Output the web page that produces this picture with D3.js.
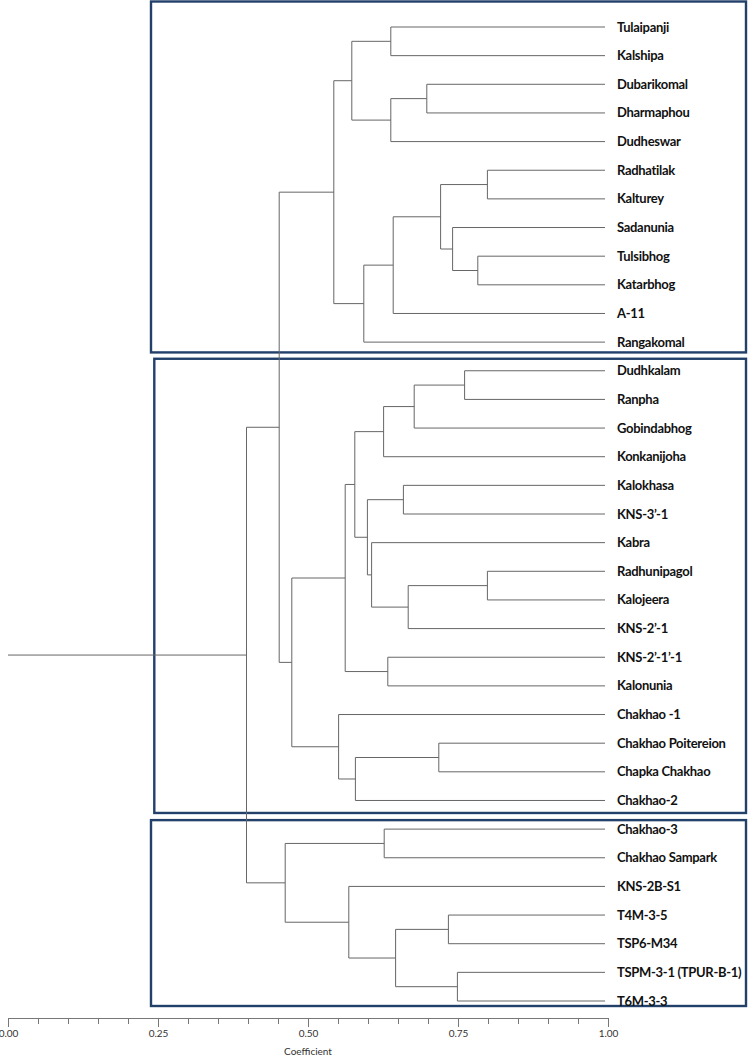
<!DOCTYPE html>
<html>
<head>
<meta charset="utf-8">
<script src="https://cdn.jsdelivr.net/npm/d3@7"></script>
<style>
  html, body { margin: 0; padding: 0; background: #fff; }
  svg { display: block; }
</style>
</head>
<body>
<svg id="chart" width="749" height="1058"></svg>
<script>
// ---------------- DATA ----------------
const leafNames = [
  "Tulaipanji", "Kalshipa", "Dubarikomal", "Dharmaphou", "Dudheswar",
  "Radhatilak", "Kalturey", "Sadanunia", "Tulsibhog", "Katarbhog", "A-11", "Rangakomal",
  "Dudhkalam", "Ranpha", "Gobindabhog", "Konkanijoha", "Kalokhasa", "KNS-3’-1",
  "Kabra", "Radhunipagol", "Kalojeera", "KNS-2’-1", "KNS-2’-1’-1", "Kalonunia",
  "Chakhao -1", "Chakhao Poitereion", "Chapka Chakhao", "Chakhao-2",
  "Chakhao-3", "Chakhao Sampark", "KNS-2B-S1", "T4M-3-5", "TSP6-M34",
  "TSPM-3-1 (TPUR-B-1)", "T6M-3-3"
];

// merges: [id, left child, right child, coefficient at which they join]
const merges = [
  ["n1",  "Tulaipanji", "Kalshipa", 0.638],
  ["n2",  "Dubarikomal", "Dharmaphou", 0.698],
  ["n3",  "n2", "Dudheswar", 0.638],
  ["n4",  "n1", "n3", 0.573],
  ["n5",  "Radhatilak", "Kalturey", 0.799],
  ["n6",  "Tulsibhog", "Katarbhog", 0.783],
  ["n7",  "Sadanunia", "n6", 0.741],
  ["n8",  "n5", "n7", 0.721],
  ["n9",  "n8", "A-11", 0.642],
  ["n10", "n9", "Rangakomal", 0.593],
  ["n11", "n4", "n10", 0.543],
  ["n12", "Dudhkalam", "Ranpha", 0.761],
  ["n13", "n12", "Gobindabhog", 0.677],
  ["n14", "n13", "Konkanijoha", 0.626],
  ["n15", "Kalokhasa", "KNS-3’-1", 0.659],
  ["n16", "Radhunipagol", "Kalojeera", 0.799],
  ["n17", "n16", "KNS-2’-1", 0.667],
  ["n18", "Kabra", "n17", 0.606],
  ["n19", "n15", "n18", 0.599],
  ["n20", "n14", "n19", 0.578],
  ["n21", "KNS-2’-1’-1", "Kalonunia", 0.633],
  ["n22", "n20", "n21", 0.562],
  ["n23", "Chakhao Poitereion", "Chapka Chakhao", 0.718],
  ["n24", "n23", "Chakhao-2", 0.579],
  ["n25", "Chakhao -1", "n24", 0.551],
  ["n26", "n22", "n25", 0.473],
  ["n27", "n11", "n26", 0.452],
  ["n28", "Chakhao-3", "Chakhao Sampark", 0.627],
  ["n29", "T4M-3-5", "TSP6-M34", 0.734],
  ["n30", "TSPM-3-1 (TPUR-B-1)", "T6M-3-3", 0.749],
  ["n31", "n29", "n30", 0.646],
  ["n32", "KNS-2B-S1", "n31", 0.568],
  ["n33", "n28", "n32", 0.462],
  ["n34", "n27", "n33", 0.3975]
];

// cluster groups highlighted by boxes (first leaf, last leaf)
const groups = [
  ["Tulaipanji", "Rangakomal"],
  ["Dudhkalam", "Chakhao-2"],
  ["Chakhao-3", "T6M-3-3"]
];

const minorTicks = [0, 0.05, 0.10, 0.15, 0.20, 0.25, 0.30, 0.35, 0.40, 0.45, 0.50,
                    0.55, 0.60, 0.65, 0.70, 0.75, 0.80, 0.85, 0.90, 0.95, 1.00];
const majorTicks = [0, 0.25, 0.50, 0.75, 1.00];
const axisTitle = "Coefficient";

// ---------------- LAYOUT / STYLE ----------------
const W = 749, H = 1058;
const axisY = 1018;
const leafTop = 27, leafBottom = 1001;
const lineColor = "#666666";
const boxColor = "#22406a";
// box frame offsets (pixels) relative to group's leaf band
const boxStyle = [
  { left: 151, right: 746, padTop: 25.5, padBottom: 10.3 },
  { left: 154.3, right: 746, padTop: 12, padBottom: 12.5 },
  { left: 151, right: 746, padTop: 9, padBottom: 5 }
];

// ---------------- BUILD TREE ----------------
const nodeMap = new Map();
leafNames.forEach(n => nodeMap.set(n, { name: n, leaf: true }));
merges.forEach(([id, a, b, v]) => {
  nodeMap.set(id, { name: id, value: v, children: [nodeMap.get(a), nodeMap.get(b)] });
});
const rootData = nodeMap.get(merges[merges.length - 1][0]);
const root = d3.hierarchy(rootData);

const x = d3.scaleLinear().domain([0, 1]).range([8, 608]);
const yLeaf = d3.scalePoint().domain(leafNames).range([leafTop, leafBottom]);

root.eachAfter(d => {
  if (!d.children) d.py = yLeaf(d.data.name);
  else d.py = d3.mean(d.children, c => c.py);
  d.px = d.children ? x(d.data.value) : x(1) - 3;
});

const svg = d3.select("#chart");
svg.append("rect").attr("width", W).attr("height", H).attr("fill", "#fff");

// boxes
const gBox = svg.append("g");
groups.forEach(([first, last], i) => {
  const s = boxStyle[i];
  const top = yLeaf(first) - s.padTop;
  const bot = yLeaf(last) + s.padBottom;
  gBox.append("rect")
    .attr("x", s.left).attr("y", top)
    .attr("width", s.right - s.left).attr("height", bot - top)
    .attr("fill", "none").attr("stroke", boxColor).attr("stroke-width", 2.4);
});

// tree links
const gTree = svg.append("g").attr("fill", "none").attr("stroke", lineColor).attr("stroke-width", 1);
root.descendants().forEach(d => {
  if (d.children) {
    gTree.append("line")
      .attr("x1", d.px).attr("x2", d.px)
      .attr("y1", d.children[0].py).attr("y2", d.children[1].py);
  }
  if (d.parent) {
    gTree.append("line")
      .attr("x1", d.parent.px).attr("x2", d.px)
      .attr("y1", d.py).attr("y2", d.py);
  }
});
// root stem to zero
gTree.append("line")
  .attr("x1", x(0)).attr("x2", root.px)
  .attr("y1", root.py).attr("y2", root.py);

// leaf labels
svg.append("g").selectAll("text")
  .data(root.leaves())
  .join("text")
  .attr("x", x(1) + 9)
  .attr("y", d => d.py)
  .attr("dy", "0.35em")
  .attr("font-family", "Lato, 'Open Sans', sans-serif")
  .attr("font-weight", "bold")
  .attr("font-size", 13)
  .attr("letter-spacing", "-0.3px")
  .attr("fill", "#111")
  .text(d => d.data.name);

// axis
const gMinor = svg.append("g").attr("transform", `translate(0,${axisY})`)
  .call(d3.axisBottom(x).tickValues(minorTicks).tickSize(6).tickSizeOuter(0).tickFormat(""));
const gMajor = svg.append("g").attr("transform", `translate(0,${axisY})`)
  .call(d3.axisBottom(x).tickValues(majorTicks).tickSize(9).tickSizeOuter(0).tickFormat(d3.format(".2f")));
[gMinor, gMajor].forEach(g => {
  g.selectAll("path, line").attr("stroke", "#777");
  g.selectAll("text").attr("fill", "#333").attr("font-family", "Lato, sans-serif").attr("font-size", 10);
});
gMajor.select(".domain").remove();

svg.append("text")
  .attr("x", x(0.5)).attr("y", 1055)
  .attr("text-anchor", "middle")
  .attr("font-family", "Lato, sans-serif")
  .attr("font-size", 10)
  .attr("fill", "#333")
  .text(axisTitle);
</script>
</body>
</html>
